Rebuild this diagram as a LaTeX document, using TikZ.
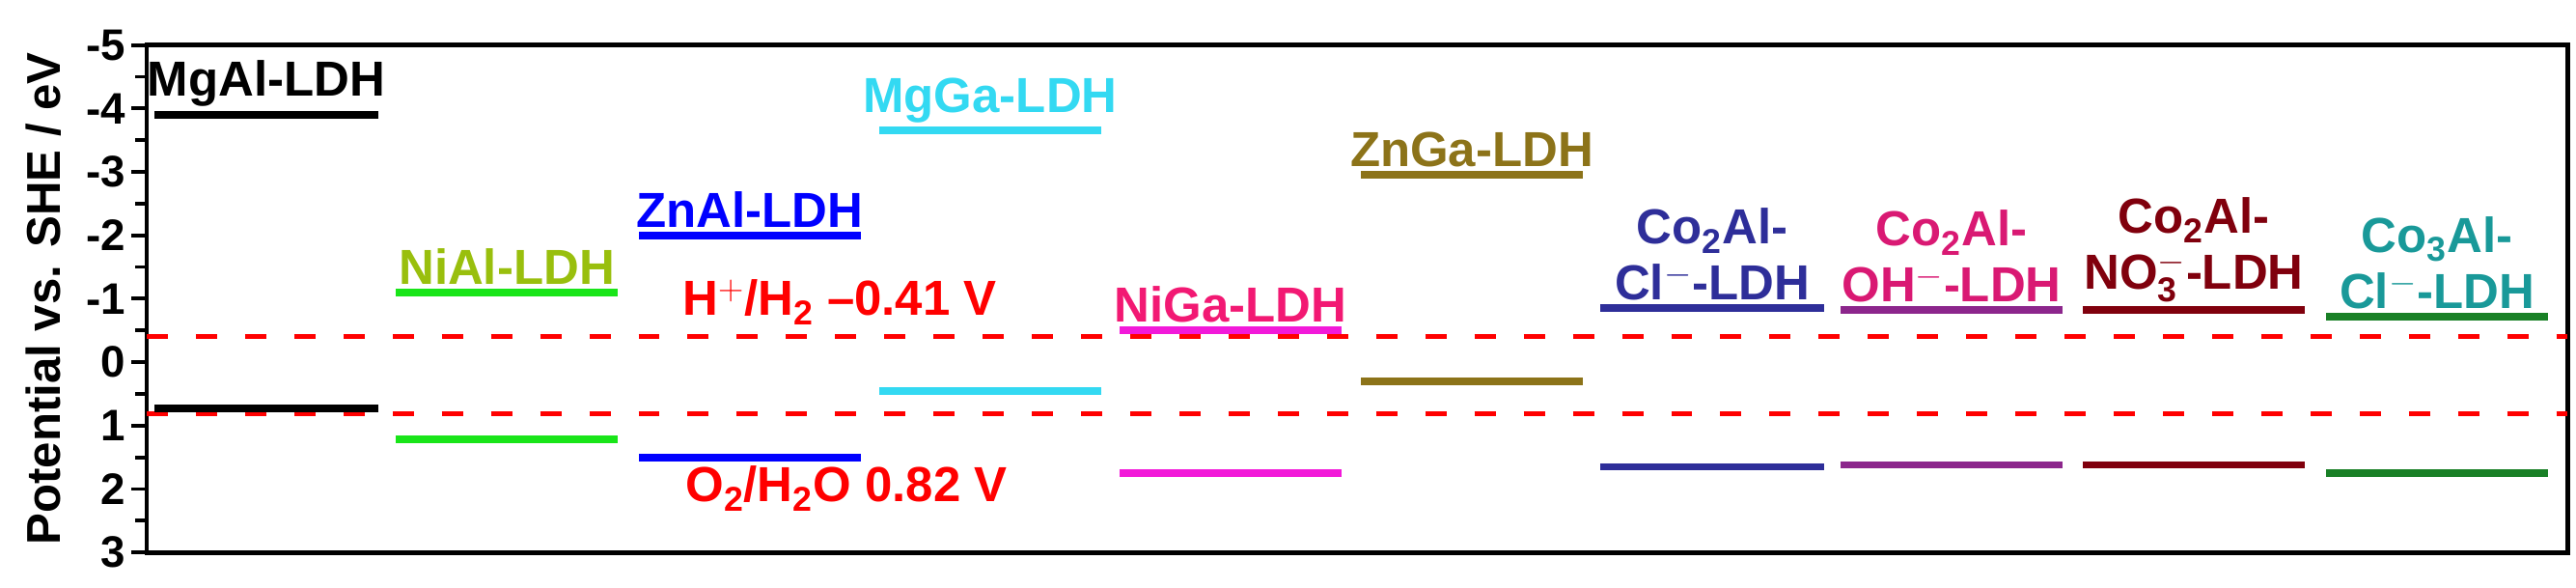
\documentclass[tikz,border=0pt]{standalone}
\usepackage{fontspec}
\setmainfont{Liberation Sans}
\begin{document}
\begin{tikzpicture}[x=0.02cm,y=-1.314cm,
  bar/.style={line width=4.5pt},
  lab/.style={font=\fontsize{29}{33}\selectfont\bfseries,align=center,inner sep=0pt},
  tlab/.style={font=\fontsize{26}{30}\selectfont\bfseries,anchor=east,inner sep=2pt},
  ref/.style={red,line width=2.8pt,dash pattern=on 12.5pt off 16.5pt}]
\definecolor{niA}{rgb}{0.6,0.75,0.05}
\definecolor{niB}{rgb}{0.1,0.9,0.1}
\definecolor{mgga}{rgb}{0.2,0.85,0.95}
\definecolor{niga}{rgb}{0.95,0.1,0.85}
\definecolor{nigaT}{rgb}{0.95,0.1,0.45}
\definecolor{znga}{rgb}{0.55,0.45,0.1}
\definecolor{coA}{rgb}{0.18,0.18,0.6}
\definecolor{coB}{rgb}{0.85,0.1,0.45}
\definecolor{coBb}{rgb}{0.55,0.15,0.55}
\definecolor{coC}{rgb}{0.5,0,0.05}
\definecolor{coD}{rgb}{0.1,0.6,0.6}
\definecolor{coDb}{rgb}{0.1,0.5,0.15}
\useasboundingbox (0,-5.71) rectangle (2669,3.55);
% frame
\draw[line width=2.8pt] (152,-5) rectangle (2660,3);
\foreach \v in {-5,...,3}{
  \draw[line width=2.2pt] (152,\v) -- (136,\v);
  \node[tlab] at (134,\v) {\v};}
\foreach \v in {-4.5,-3.5,...,2.5}
  \draw[line width=2.2pt] (152,\v) -- (140,\v);
\node[rotate=90,font=\fontsize{28}{30}\selectfont\bfseries] (yt) at (45,-1) {Potential vs. SHE / eV};
% reference lines
\draw[ref] (152,-0.41) -- (2660,-0.41);
\draw[ref] (152,0.82) -- (2660,0.82);
\node[lab,red] (h) at (870,-0.95) {H$^{\mathbf{+}}$/H$_{\mathbf{2}}$ --0.41 V};
\node[lab,red] (o) at (877,2.0) {O$_{\mathbf 2}$/H$_{\mathbf 2}$O 0.82 V};
% bars
\newcommand\ldh[7]{% x1 x2 cb vb barcolor textcolor label
  \draw[bar,#5] (#1,#3) -- (#2,#3);
  \draw[bar,#5] (#1,#4) -- (#2,#4);
  \node[lab,#6,anchor=south] at ({(#1+#2)/2},#3-0.12) {#7};}
\ldh{160}{392}{-3.9}{0.73}{black}{black}{MgAl-LDH}
\ldh{410}{640}{-1.1}{1.22}{niB}{niA}{NiAl-LDH}
\ldh{662}{892}{-2.0}{1.5}{blue}{blue}{ZnAl-LDH}
\ldh{911}{1141}{-3.65}{0.45}{mgga}{mgga}{MgGa-LDH}
\ldh{1160}{1390}{-0.5}{1.75}{niga}{nigaT}{NiGa-LDH}
\ldh{1410}{1640}{-2.95}{0.3}{znga}{znga}{ZnGa-LDH}
\ldh{1658}{1890}{-0.85}{1.65}{coA}{coA}{Co$_{\mathbf 2}$Al-\\Cl$^{\mathbf -}$-LDH}
\ldh{1907}{2137}{-0.82}{1.62}{coBb}{coB}{Co$_{\mathbf 2}$Al-\\OH$^{\mathbf -}$-LDH}
\ldh{2158}{2388}{-0.82}{1.62}{coC}{coC}{Co$_{\mathbf 2}$Al-\\NO$_{\mathbf 3}^{\mathbf -}$-LDH}
\ldh{2410}{2640}{-0.72}{1.75}{coDb}{coD}{Co$_{\mathbf 3}$Al-\\Cl$^{\mathbf -}$-LDH}
\end{tikzpicture}
\end{document}
